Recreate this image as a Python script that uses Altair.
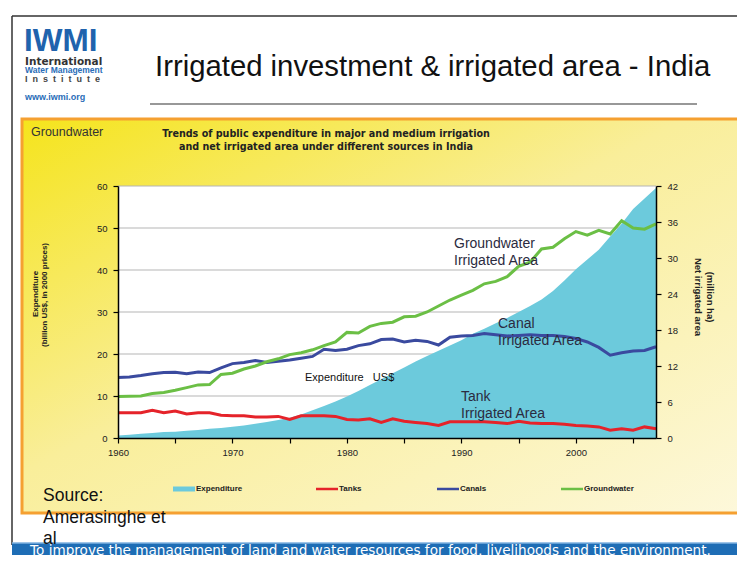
import altair as alt
import pandas as pd

# ---------------- data ----------------
years = list(range(1960, 2008))
expenditure = [0.6, 0.8, 1.0, 1.2, 1.4, 1.5, 1.7, 1.9, 2.2, 2.4,
               2.7, 3.0, 3.4, 3.8, 4.3, 4.8, 5.6, 6.6, 7.6, 8.7,
               9.9, 11.2, 12.6, 14.0, 15.4, 16.8, 18.2, 19.5, 20.8, 22.0,
               23.3, 24.8, 26.0, 27.3, 28.6, 30.0, 31.4, 33.0, 35.0, 37.5,
               40.2, 42.5, 44.8, 48.0, 51.0, 54.5, 57.0, 59.5]
groundwater = [6.9, 6.95, 7.0, 7.4, 7.6, 7.95, 8.4, 8.85, 8.9, 10.6,
               10.8, 11.5, 12.0, 12.7, 13.2, 13.9, 14.2, 14.7, 15.4, 16.0,
               17.6, 17.5, 18.6, 19.1, 19.3, 20.2, 20.3, 21.0, 22.0, 23.0,
               23.8, 24.6, 25.7, 26.1, 26.9, 28.6, 29.3, 31.5, 31.8, 33.2,
               34.4, 33.8, 34.6, 34.0, 36.2, 35.0, 34.8, 35.7]
canals = [10.1, 10.15, 10.4, 10.7, 10.9, 10.95, 10.7, 11.0, 10.9, 11.7,
          12.4, 12.6, 12.9, 12.6, 12.8, 13.0, 13.3, 13.6, 14.8, 14.6,
          14.8, 15.4, 15.7, 16.4, 16.5, 16.0, 16.3, 16.1, 15.5, 16.8,
          17.0, 17.1, 17.4, 17.2, 17.0, 17.1, 17.2, 17.1, 17.1, 16.9,
          16.6, 16.0, 15.1, 13.8, 14.2, 14.5, 14.6, 15.2]
tanks = [4.2, 4.2, 4.2, 4.6, 4.2, 4.5, 4.0, 4.2, 4.2, 3.8,
         3.7, 3.7, 3.5, 3.5, 3.6, 3.1, 3.7, 3.7, 3.7, 3.6,
         3.1, 3.0, 3.2, 2.6, 3.2, 2.8, 2.6, 2.4, 2.1, 2.7,
         2.7, 2.7, 2.7, 2.6, 2.4, 2.8, 2.5, 2.4, 2.4, 2.3,
         2.1, 2.0, 1.85, 1.3, 1.55, 1.3, 1.85, 1.55]
series_names = ["Tanks", "Canals", "Groundwater"]
series_colors = ["#e5232a", "#3a4a9f", "#6bbf45"]
area_color = "#6ccadc"
left_ticks = [0, 10, 20, 30, 40, 50, 60]
right_ticks = [0, 6, 12, 18, 24, 30, 36, 42]
grid_values = [10, 20, 30, 40, 50, 60]
x_ticks = [1960, 1965, 1970, 1975, 1980, 1985, 1990, 1995, 2000, 2005]

FONT = "Liberation Sans"
WIDE = "DejaVu Sans"
W, H = 538, 252

exp_df = pd.DataFrame({"year": years, "exp": expenditure})
lines_df = pd.concat([
    pd.DataFrame({"year": years, "value": vals, "series": name})
    for name, vals in zip(series_names, [tanks, canals, groundwater])
])
grid_df = pd.DataFrame({"exp": grid_values})
one = pd.DataFrame({"k": [0]})

# ---------------- scales / axes ----------------
x_enc = alt.X("year:Q",
              scale=alt.Scale(domain=[1960, 2007], nice=False, zero=False),
              axis=alt.Axis(values=x_ticks, format="d",
                            labelExpr="datum.value % 10 == 0 ? datum.label : ''",
                            title=None, grid=False, labelFlush=False,
                            domainColor="black", domainWidth=1.5,
                            tickColor="black", tickSize=5, tickWidth=1.2,
                            labelFontSize=9.5, labelColor="#222", labelFont=FONT,
                            labelPadding=4, zindex=1))

left_axis = alt.Axis(values=left_ticks, title=None, grid=False, orient="left",
                     domainColor="black", domainWidth=1.5,
                     tickColor="black", tickSize=5, tickWidth=1.2,
                     labelFontSize=9.5, labelColor="#222", labelFont=FONT,
                     labelPadding=6, zindex=1)
left_scale = alt.Scale(domain=[0, 60], nice=False)

right_axis = alt.Axis(values=right_ticks, title=None, grid=False, orient="right",
                      domainColor="black", domainWidth=1.5,
                      tickColor="black", tickSize=5, tickWidth=1.2,
                      labelFontSize=9.5, labelColor="#222", labelFont=FONT,
                      labelPadding=6, zindex=1)

# ---------------- helpers ----------------
OX, OY = 118, 186  # page position of plot origin


def txt(s, px, py, size, color="#222", bold=False, align="left", baseline="alphabetic",
        angle=0, font=FONT):
    kw = dict(font=font, fontSize=size, color=color, align=align, baseline=baseline,
              fontWeight="bold" if bold else "normal")
    if angle:
        kw["angle"] = angle
    return alt.Chart(one).mark_text(**kw).encode(
        x=alt.value(px - OX), y=alt.value(py - OY), text=alt.value(s))


def rect(x1, y1, x2, y2, **kw):
    return alt.Chart(one).mark_rect(**kw).encode(
        x=alt.value(x1 - OX), x2=alt.value(x2 - OX),
        y=alt.value(y1 - OY), y2=alt.value(y2 - OY))


def hrule(x1, x2, y, color, width):
    return alt.Chart(one).mark_rule(color=color, strokeWidth=width).encode(
        x=alt.value(x1 - OX), x2=alt.value(x2 - OX), y=alt.value(y - OY))


def vrule(x, y1, y2, color, width):
    return alt.Chart(one).mark_rule(color=color, strokeWidth=width).encode(
        x=alt.value(x - OX), y=alt.value(y1 - OY), y2=alt.value(y2 - OY))


# ---------------- slide decorations ----------------
yellow = alt.Gradient(gradient="linear",
                      stops=[alt.GradientStop(color="#f5e41c", offset=0),
                             alt.GradientStop(color="#f9ee9a", offset=0.45),
                             alt.GradientStop(color="#fdf8dc", offset=1)],
                      x1=0, y1=0, x2=1, y2=1)
box = rect(22, 119, 760, 513, fill=yellow, stroke="#f5a031", strokeWidth=3)
frame_top = hrule(12, 760, 16, "#333", 1.5)
frame_left = vrule(12, 16, 545, "#333", 1.5)
banner = rect(12, 543, 760, 570, color="#1e6db5")
banner_line = hrule(12, 760, 543, "#7fb2e0", 1.5)
banner_text = txt("To improve the management of land and water resources for food, livelihoods and the environment.",
                  30, 555, 13.6, color="white", font=WIDE)

title = txt("Irrigated investment & irrigated area - India", 155, 76, 29.3, color="#111")
underline = hrule(150, 697, 104, "#333", 1.2)

spaced = " \u00a0".join(list("Institute"))
logo = [
    txt("IWMI", 24, 50.5, 31.5, color="#2063ad", bold=True),
    txt("International", 25, 65, 10.5, color="#333", bold=True, font=WIDE),
    txt("Water Management", 25, 73, 8.5, color="#2a6db8", bold=True),
    txt(spaced, 25, 82, 9, color="#444", bold=True),
    txt("www.iwmi.org", 25, 100, 9, color="#2a6db8", bold=True),
]

box_label = txt("Groundwater", 31, 136, 12.5, color="#333")
chart_title = [
    txt("Trends  of  public  expenditure  in major and medium  irrigation", 326, 137, 9.6,
        bold=True, align="center", font=WIDE),
    txt("and net irrigated  area under different  sources  in India", 326, 149.5, 9.6,
        bold=True, align="center", font=WIDE),
]

axis_titles = [
    txt("Expenditure", 36, 294, 8, bold=True, align="center", baseline="middle", angle=270),
    txt("(billion US$, in 2000 prices)", 45, 295, 8, bold=True, align="center", baseline="middle", angle=270),
    txt("Net irrigated area", 698, 297, 9.5, bold=True, align="center", baseline="middle", angle=90),
    txt("(million ha)", 710, 297, 9.5, bold=True, align="center", baseline="middle", angle=90),
]

white_plot = rect(OX, OY, OX + W, OY + H, color="white")

# ---------------- data layers ----------------
grid = alt.Chart(grid_df).mark_rule(color="#b5b5b5", strokeWidth=1).encode(
    y=alt.Y("exp:Q", scale=left_scale, axis=left_axis),
    x=alt.value(0), x2=alt.value(W))

area = alt.Chart(exp_df).mark_area(color=area_color, opacity=1).encode(
    x=x_enc,
    y=alt.Y("exp:Q", scale=left_scale, axis=left_axis))

left_group = alt.layer(grid, area)

lines = alt.Chart(lines_df).mark_line(strokeWidth=3).encode(
    x=x_enc,
    y=alt.Y("value:Q", scale=alt.Scale(domain=[0, 42], nice=False), axis=right_axis),
    color=alt.Color("series:N", scale=alt.Scale(domain=series_names, range=series_colors), legend=None),
    detail="series:N")

ann_color = "#2b2b40"
annotations = [
    txt("Groundwater", 454, 248, 14, color=ann_color),
    txt("Irrigated Area", 454, 265, 14, color=ann_color),
    txt("Canal", 498, 328, 14, color=ann_color),
    txt("Irrigated Area", 498, 345, 14, color=ann_color),
    txt("Expenditure\u00a0\u00a0\u00a0US$", 305, 381, 11, color="#111"),
    txt("Tank", 461, 401, 14, color=ann_color),
    txt("Irrigated Area", 461, 418, 14, color=ann_color),
]

# ---------------- legend ----------------
LY = 489
legend = [
    rect(173, LY - 2.5, 195, LY + 2.5, color=area_color),
    txt("Expenditure", 196, LY, 8, bold=True, baseline="middle"),
    hrule(316, 338, LY, series_colors[0], 2.5),
    txt("Tanks", 339, LY, 8, bold=True, baseline="middle"),
    hrule(437, 459, LY, series_colors[1], 2.5),
    txt("Canals", 460, LY, 8, bold=True, baseline="middle"),
    hrule(561, 583, LY, series_colors[2], 2.5),
    txt("Groundwater", 584, LY, 8, bold=True, baseline="middle"),
]

source = [
    txt("Source:", 43, 501, 17.5, color="#111"),
    txt("Amerasinghe et", 43, 523, 17.5, color="#111"),
    txt("al", 43, 544, 17.5, color="#111"),
]

chart = alt.layer(
    frame_top, frame_left, box, banner, banner_line, banner_text,
    title, underline, *logo, box_label, *chart_title, *axis_titles,
    white_plot, left_group, lines, *annotations, *legend, *source,
).resolve_scale(y="independent").properties(
    width=W, height=H,
    padding={"left": 110, "top": 178, "right": 81, "bottom": 117},
    autosize=alt.AutoSizeParams(type="none"),
).configure_view(stroke=None).configure(background="white")

chart.save("out.html", embed_options={"renderer": "svg", "actions": False})
